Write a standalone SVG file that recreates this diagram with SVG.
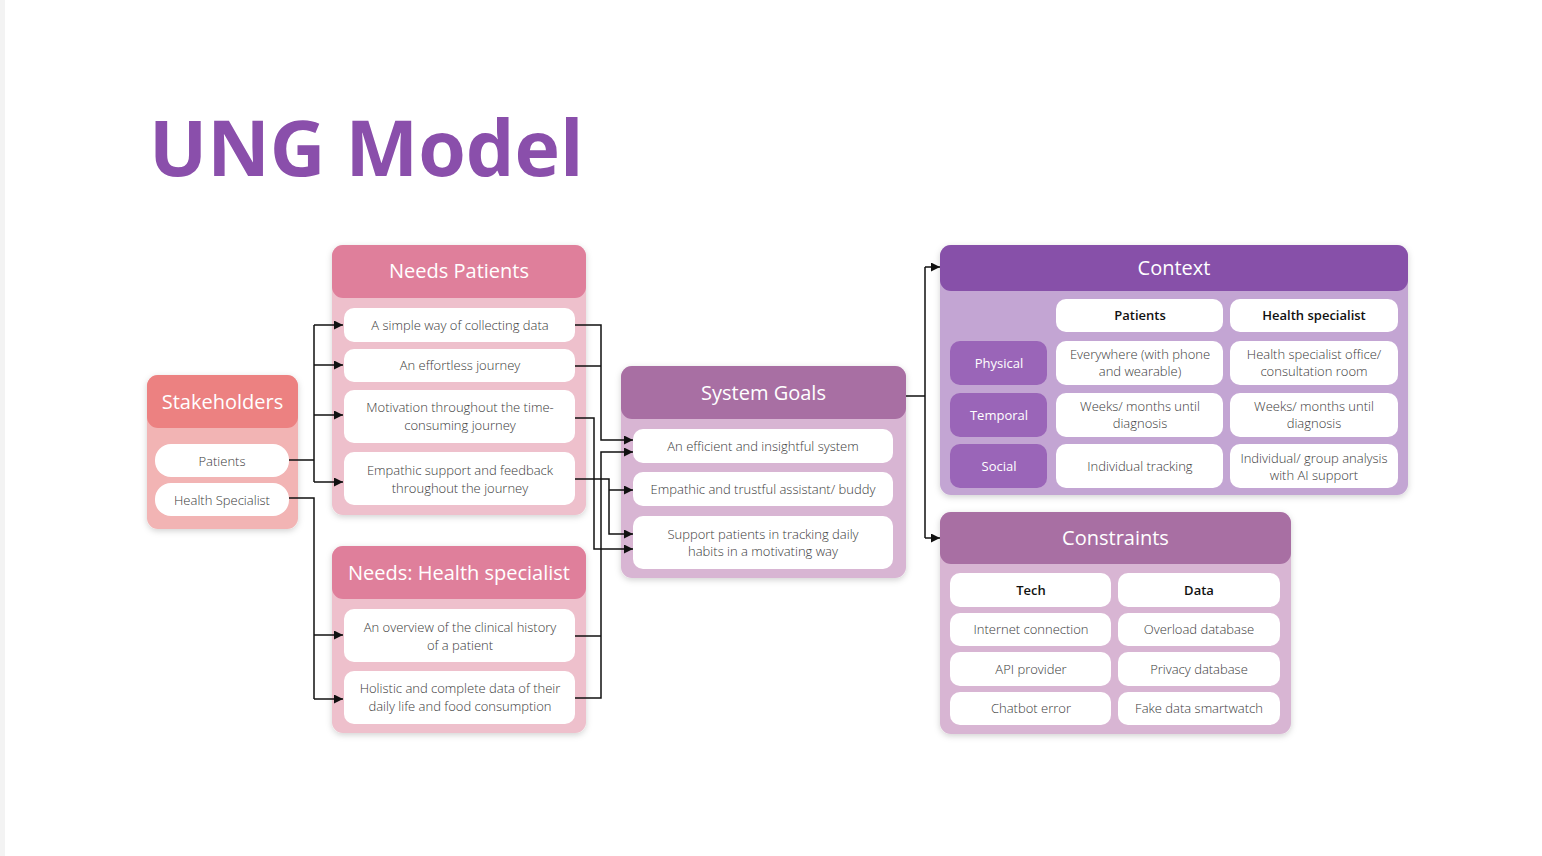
<svg xmlns="http://www.w3.org/2000/svg" width="1542" height="856" viewBox="0 0 1542 856">
<defs>
<filter id="sh" x="-10%" y="-10%" width="120%" height="125%">
<feDropShadow dx="0" dy="2" stdDeviation="3" flood-color="#000" flood-opacity="0.18"/>
</filter>
<marker id="ar" viewBox="0 0 10 10" refX="10" refY="5" markerWidth="9" markerHeight="9" markerUnits="userSpaceOnUse" orient="auto">
<path d="M0,0 L10,5 L0,10 z" fill="#111"/>
</marker>
</defs>
<style>
text{font-family:"Open Sans","Noto Sans","Liberation Sans",sans-serif;}
.hd{fill:#fff;font-size:20px;font-weight:500;text-anchor:middle;}
.it{fill:#3a3a3a;font-size:13px;font-weight:300;text-anchor:middle;}
.bh{fill:#111;font-size:13px;font-weight:600;text-anchor:middle;}
.rl{fill:#fff;font-size:13px;text-anchor:middle;}
.w{fill:#fff;}
.c{fill:none;stroke:#111;stroke-width:1.5;}
.a{marker-end:url(#ar);}
</style>
<rect x="0" y="0" width="1542" height="856" fill="#fff"/>
<rect x="0" y="0" width="5" height="856" fill="#f3f3f3"/>
<text x="149" y="176" font-size="77" font-weight="700" fill="#8a4fab" style="font-family:'Open Sans','Liberation Sans',sans-serif">UNG Model</text>

<g id="stakeholders">
<rect x="147" y="375" width="151" height="154" rx="11" fill="#f2b4b4" filter="url(#sh)"/>
<rect x="147" y="375" width="151" height="53" rx="11" fill="#ec8181"/>
<text class="hd" x="222.5" y="409">Stakeholders</text>
<rect class="w" x="155" y="444" width="134" height="33" rx="16"/>
<text class="it" x="222" y="465.5">Patients</text>
<rect class="w" x="155" y="483" width="134" height="33" rx="16"/>
<text class="it" x="222" y="504.5">Health Specialist</text>
</g>

<g id="needs-patients">
<rect x="332" y="245" width="254" height="270" rx="11" fill="#eec0cc" filter="url(#sh)"/>
<rect x="332" y="245" width="254" height="53" rx="11" fill="#df7f9b"/>
<text class="hd" x="459" y="278">Needs Patients</text>
<rect class="w" x="344" y="308" width="231" height="34" rx="10"/>
<text class="it" x="460" y="330">A simple way of collecting data</text>
<rect class="w" x="344" y="349" width="231" height="33" rx="10"/>
<text class="it" x="460" y="370">An effortless journey</text>
<rect class="w" x="344" y="390" width="231" height="53" rx="10"/>
<text class="it" x="460" y="412">Motivation throughout the time-</text>
<text class="it" x="460" y="430">consuming journey</text>
<rect class="w" x="344" y="452" width="231" height="53" rx="10"/>
<text class="it" x="460" y="475">Empathic support and feedback</text>
<text class="it" x="460" y="493">throughout the journey</text>
</g>

<g id="needs-health">
<rect x="332" y="546" width="254" height="187" rx="11" fill="#eec0cc" filter="url(#sh)"/>
<rect x="332" y="546" width="254" height="53" rx="11" fill="#df7f9b"/>
<text class="hd" x="459" y="580">Needs: Health specialist</text>
<rect class="w" x="344" y="609" width="231" height="53" rx="10"/>
<text class="it" x="460" y="632">An overview of the clinical history</text>
<text class="it" x="460" y="650">of a patient</text>
<rect class="w" x="344" y="671" width="231" height="53" rx="10"/>
<text class="it" x="460" y="693">Holistic and complete data of their</text>
<text class="it" x="460" y="711">daily life and food consumption</text>
</g>

<g id="system-goals">
<rect x="621" y="366" width="285" height="212" rx="11" fill="#d8b5d3" filter="url(#sh)"/>
<rect x="621" y="366" width="285" height="53" rx="11" fill="#a86fa3"/>
<text class="hd" x="763.5" y="400">System Goals</text>
<rect class="w" x="633" y="429" width="260" height="34" rx="10"/>
<text class="it" x="763" y="451">An efficient and insightful system</text>
<rect class="w" x="633" y="472" width="260" height="34" rx="10"/>
<text class="it" x="763" y="494">Empathic and trustful assistant/ buddy</text>
<rect class="w" x="633" y="516" width="260" height="53" rx="10"/>
<text class="it" x="763" y="539">Support patients in tracking daily</text>
<text class="it" x="763" y="556">habits in a motivating way</text>
</g>

<g id="context">
<rect x="940" y="245" width="468" height="250" rx="11" fill="#c3a5d3" filter="url(#sh)"/>
<rect x="940" y="245" width="468" height="46" rx="11" fill="#8750a9"/>
<text class="hd" x="1174" y="275">Context</text>
<rect class="w" x="1056" y="299" width="167" height="33" rx="10"/>
<text class="bh" x="1140" y="320">Patients</text>
<rect class="w" x="1230" y="299" width="168" height="33" rx="10"/>
<text class="bh" x="1314" y="320">Health specialist</text>
<rect x="950" y="341" width="97" height="44" rx="10" fill="#9a65b8"/>
<text class="rl" x="999" y="368">Physical</text>
<rect x="950" y="393" width="97" height="44" rx="10" fill="#9a65b8"/>
<text class="rl" x="999" y="420">Temporal</text>
<rect x="950" y="444" width="97" height="44" rx="10" fill="#9a65b8"/>
<text class="rl" x="999" y="471">Social</text>
<rect class="w" x="1056" y="341" width="167" height="44" rx="10"/>
<text class="it" x="1140" y="359">Everywhere (with phone</text>
<text class="it" x="1140" y="376">and wearable)</text>
<rect class="w" x="1230" y="341" width="168" height="44" rx="10"/>
<text class="it" x="1314" y="359">Health specialist office/</text>
<text class="it" x="1314" y="376">consultation room</text>
<rect class="w" x="1056" y="393" width="167" height="44" rx="10"/>
<text class="it" x="1140" y="411">Weeks/ months until</text>
<text class="it" x="1140" y="428">diagnosis</text>
<rect class="w" x="1230" y="393" width="168" height="44" rx="10"/>
<text class="it" x="1314" y="411">Weeks/ months until</text>
<text class="it" x="1314" y="428">diagnosis</text>
<rect class="w" x="1056" y="444" width="167" height="44" rx="10"/>
<text class="it" x="1140" y="471">Individual tracking</text>
<rect class="w" x="1230" y="444" width="168" height="44" rx="10"/>
<text class="it" x="1314" y="463">Individual/ group analysis</text>
<text class="it" x="1314" y="480">with AI support</text>
</g>

<g id="constraints">
<rect x="940" y="512" width="351" height="222" rx="11" fill="#d8b5d3" filter="url(#sh)"/>
<rect x="940" y="512" width="351" height="52" rx="11" fill="#a86fa3"/>
<text class="hd" x="1115.5" y="545">Constraints</text>
<rect class="w" x="950" y="573" width="161" height="34" rx="10"/>
<text class="bh" x="1031" y="595">Tech</text>
<rect class="w" x="1118" y="573" width="162" height="34" rx="10"/>
<text class="bh" x="1199" y="595">Data</text>
<rect class="w" x="950" y="613" width="161" height="33" rx="10"/>
<text class="it" x="1031" y="634">Internet connection</text>
<rect class="w" x="1118" y="613" width="162" height="33" rx="10"/>
<text class="it" x="1199" y="634">Overload database</text>
<rect class="w" x="950" y="652" width="161" height="34" rx="10"/>
<text class="it" x="1031" y="674">API provider</text>
<rect class="w" x="1118" y="652" width="162" height="34" rx="10"/>
<text class="it" x="1199" y="674">Privacy database</text>
<rect class="w" x="950" y="692" width="161" height="33" rx="10"/>
<text class="it" x="1031" y="713">Chatbot error</text>
<rect class="w" x="1118" y="692" width="162" height="33" rx="10"/>
<text class="it" x="1199" y="713">Fake data smartwatch</text>
</g>

<g id="connectors">
<path class="c" d="M289,460 H314 M314,325 V482"/>
<path class="c a" d="M314,325 H343"/>
<path class="c a" d="M314,365 H343"/>
<path class="c a" d="M314,415 H343"/>
<path class="c a" d="M314,482 H343"/>
<path class="c" d="M289,498 H314 V699"/>
<path class="c a" d="M314,635 H343"/>
<path class="c a" d="M314,699 H343"/>
<path class="c" d="M575,366 H601"/>
<path class="c a" d="M575,325 H601 V440 H633"/>
<path class="c a" d="M575,418 H594 V549 H633"/>
<path class="c a" d="M575,479 H609 V534 H633"/>
<path class="c a" d="M609,490 H633"/>
<path class="c a" d="M575,698 H601 V452 H633"/>
<path class="c" d="M575,636 H601"/>
<path class="c" d="M906,396 H925 M925,267 V538"/>
<path class="c a" d="M925,267 H940"/>
<path class="c a" d="M925,538 H940"/>
</g>
</svg>
